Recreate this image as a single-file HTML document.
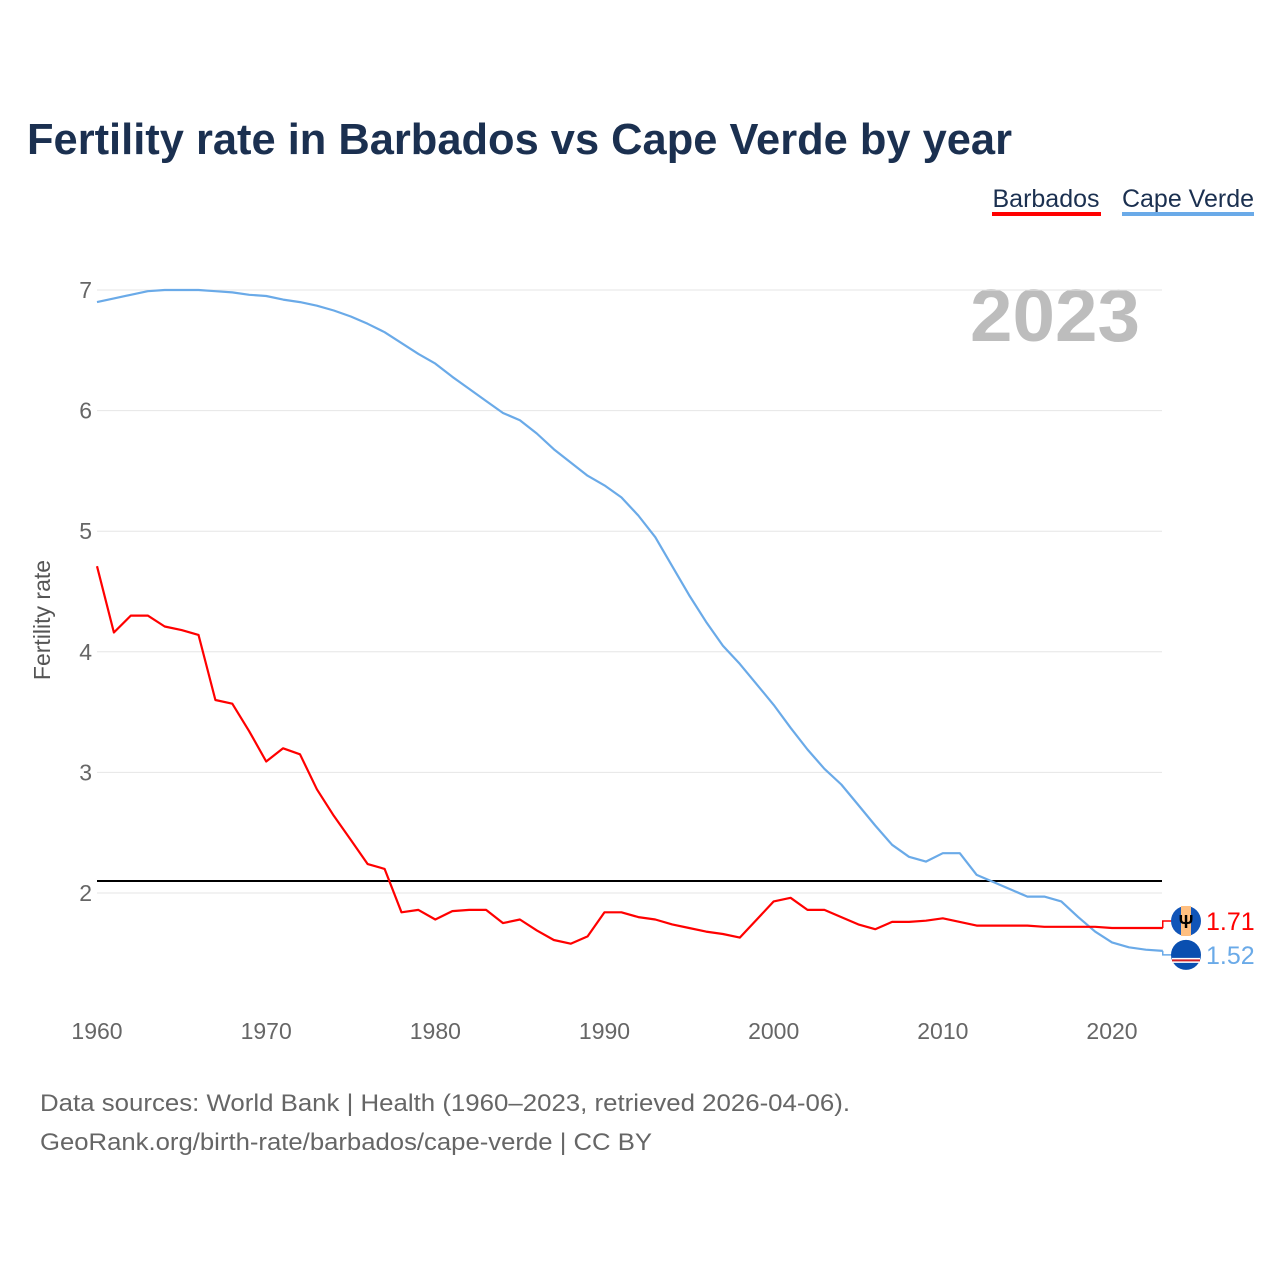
<!DOCTYPE html>
<html><head><meta charset="utf-8"><style>
body{margin:0;background:#fff;}
svg{display:block;font-family:"Liberation Sans",sans-serif;}
</style></head><body>
<svg id="chart" width="1280" height="1280" viewBox="0 0 1280 1280">
<text x="27" y="154" font-size="44" font-weight="bold" fill="#1b3050" textLength="985" lengthAdjust="spacingAndGlyphs">Fertility rate in Barbados vs Cape Verde by year</text>
<g>
<text x="1046" y="207" font-size="25" fill="#1b3050" text-anchor="middle">Barbados</text>
<rect x="992" y="212" width="109" height="4" fill="#ff0000"/>
<text x="1188" y="207" font-size="25" fill="#1b3050" text-anchor="middle">Cape Verde</text>
<rect x="1122" y="212" width="132" height="4" fill="#6aaae8"/>
</g>
<text x="1140" y="341" font-size="74" font-weight="bold" fill="#bdbdbd" text-anchor="end" textLength="170" lengthAdjust="spacingAndGlyphs">2023</text>
<text transform="translate(50,620) rotate(-90)" font-size="23" fill="#555" text-anchor="middle">Fertility rate</text>
<g id="grid"></g><g id="lines"></g><g id="ends"></g>
<text x="40" y="1111" font-size="24" fill="#666" textLength="810" lengthAdjust="spacingAndGlyphs">Data sources: World Bank | Health (1960–2023, retrieved 2026-04-06).</text>
<text x="40" y="1150" font-size="24" fill="#666" textLength="612" lengthAdjust="spacingAndGlyphs">GeoRank.org/birth-rate/barbados/cape-verde | CC BY</text>
</svg>
<script>
const years=[];for(let y=1960;y<=2023;y++)years.push(y);
const barbados=[4.71,4.16,4.30,4.30,4.21,4.18,4.14,3.60,3.57,3.34,3.09,3.20,3.15,2.86,2.64,2.44,2.24,2.20,1.84,1.86,1.78,1.85,1.86,1.86,1.75,1.78,1.69,1.61,1.58,1.64,1.84,1.84,1.80,1.78,1.74,1.71,1.68,1.66,1.63,1.78,1.93,1.96,1.86,1.86,1.80,1.74,1.70,1.76,1.76,1.77,1.79,1.76,1.73,1.73,1.73,1.73,1.72,1.72,1.72,1.72,1.71,1.71,1.71,1.71];
const capeVerde=[6.90,6.93,6.96,6.99,7.00,7.00,7.00,6.99,6.98,6.96,6.95,6.92,6.90,6.87,6.83,6.78,6.72,6.65,6.56,6.47,6.39,6.28,6.18,6.08,5.98,5.92,5.81,5.68,5.57,5.46,5.38,5.28,5.13,4.95,4.71,4.47,4.25,4.05,3.90,3.73,3.56,3.37,3.19,3.03,2.90,2.73,2.56,2.40,2.30,2.26,2.33,2.33,2.15,2.09,2.03,1.97,1.97,1.93,1.80,1.68,1.59,1.55,1.53,1.52];
const yTicks=[2,3,4,5,6,7];
const xTicks=[1960,1970,1980,1990,2000,2010,2020];
const replacement=2.1;
const NS="http://www.w3.org/2000/svg";
const X=y=>97+(y-1960)*1015/60;
const Y=v=>893-(v-2)*120.6;
function mk(tag,attrs,parent,txt){const e=document.createElementNS(NS,tag);for(const k in attrs)e.setAttribute(k,attrs[k]);if(txt!==undefined)e.textContent=txt;parent.appendChild(e);return e;}
const grid=document.getElementById('grid');
yTicks.forEach(t=>{
 const l=mk('line',{x1:97,x2:1162,y1:Y(t),y2:Y(t),stroke:'#e6e6e6','stroke-width':1},grid);
 
 
 const tx=mk('text',{x:92,y:Y(t)+8,'font-size':23,fill:'#666','text-anchor':'end'},grid,String(t));
 
 
});
xTicks.forEach(t=>{
 const tx=mk('text',{x:X(t),y:1039,'font-size':23,fill:'#666','text-anchor':'middle'},grid,String(t));
 
 
});
const rl=mk('line',{x1:97,x2:1162,y1:Y(replacement),y2:Y(replacement),stroke:'#000','stroke-width':2},grid);


const lines=document.getElementById('lines');
function path(vals){return vals.map((v,i)=>(i?'L':'M')+X(years[i]).toFixed(1)+','+Y(v).toFixed(1)).join('');}
const pc=mk('path',{d:path(capeVerde),fill:'none',stroke:'#6aaae8','stroke-width':2.2,'stroke-linejoin':'round'},lines);


const pb=mk('path',{d:path(barbados),fill:'none',stroke:'#ff0000','stroke-width':2.2,'stroke-linejoin':'round'},lines);


const ends=document.getElementById('ends');
const lb=barbados[barbados.length-1],lc=capeVerde[capeVerde.length-1];
const yb=Y(lb)-7,yc=Y(lc)+4;
const cb=mk('path',{d:`M${X(2023)},${Y(lb)}L${X(2023)},${yb}L1172,${yb}`,fill:'none',stroke:'#ff0000','stroke-width':1.5},ends);


const cc=mk('path',{d:`M${X(2023)},${Y(lc)}L${X(2023)},${yc}L1172,${yc}`,fill:'none',stroke:'#6aaae8','stroke-width':1.5},ends);


const fb=mk('g',{},ends);


mk('circle',{cx:1186,cy:yb,r:15,fill:'#1155b8'},fb);
mk('rect',{x:1181,y:yb-15,width:10,height:30,fill:'#ffbf80'},fb);
mk('text',{x:1186,y:yb+7,'font-size':18,'font-weight':'bold','text-anchor':'middle',fill:'#000'},fb,'Ψ');
const fc=mk('g',{},ends);


mk('circle',{cx:1186,cy:yc,r:15,fill:'#0a4fb0'},fc);
mk('rect',{x:1172,y:yc+3,width:28,height:5,fill:'#fff'},fc);
mk('rect',{x:1172,y:yc+4.5,width:28,height:2,fill:'#cf2027'},fc);
const tb=mk('text',{x:1206,y:yb+9,'font-size':25,fill:'#ff0000'},ends,lb.toFixed(2));


const tc=mk('text',{x:1206,y:yc+9,'font-size':25,fill:'#6aaae8'},ends,lc.toFixed(2));


</script>
</body></html>
